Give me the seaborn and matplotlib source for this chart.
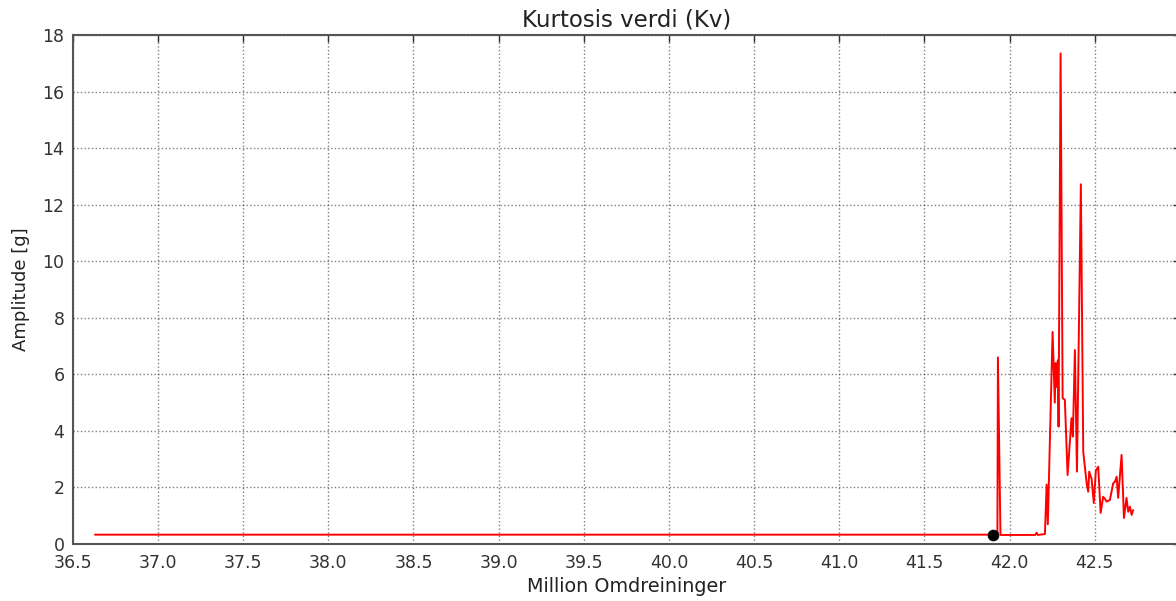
import matplotlib
matplotlib.use("Agg")
import matplotlib.pyplot as plt
import numpy as np
import pandas as pd
import seaborn as sns

# Kurtosis history over revolutions (million)
omdreininger = [
    36.63, 37.5, 38.5, 39.5, 40.5, 41.5, 41.90, 41.928,
    41.931, 41.946, 42.05, 42.15, 42.158, 42.165, 42.207,
    42.217, 42.224, 42.252, 42.265, 42.270, 42.275, 42.283, 42.287,
    42.299, 42.311, 42.324, 42.340, 42.363, 42.371, 42.383, 42.395,
    42.418, 42.432, 42.452, 42.461, 42.467, 42.481, 42.494, 42.506,
    42.520, 42.534, 42.549, 42.559, 42.569, 42.588, 42.608, 42.618,
    42.628, 42.637, 42.657, 42.671, 42.686, 42.696, 42.706, 42.716,
    42.725,
]
kurtosis = [
    0.33, 0.33, 0.33, 0.33, 0.33, 0.33, 0.33, 0.33,
    6.60, 0.32, 0.32, 0.32, 0.40, 0.32, 0.35,
    2.10, 0.70, 7.50, 5.00, 6.40, 5.56, 6.50, 4.15,
    17.35, 5.16, 5.10, 2.44, 4.45, 3.80, 6.86, 2.56,
    12.72, 3.26, 2.15, 1.85, 2.56, 2.30, 1.45, 2.60,
    2.73, 1.10, 1.67, 1.60, 1.50, 1.55, 2.15, 2.20,
    2.38, 1.63, 3.15, 0.92, 1.63, 1.14, 1.32, 1.03,
    1.20,
]
marker_x = [41.90]
marker_y = [0.33]

x_ticks = [36.5, 37.0, 37.5, 38.0, 38.5, 39.0, 39.5, 40.0, 40.5, 41.0, 41.5, 42.0, 42.5]
y_ticks = [0, 2, 4, 6, 8, 10, 12, 14, 16, 18]

sns.set_style("white")
plt.rcParams["font.family"] = ["DejaVu Sans"]

df = pd.DataFrame({"Million Omdreininger": omdreininger, "Amplitude [g]": kurtosis})

fig = plt.figure(figsize=(11.76, 6.01), dpi=100)
ax = fig.add_axes([72.8 / 1176, 1 - 544 / 601, (1180 - 72.8) / 1176, (544 - 35) / 601])

sns.lineplot(data=df, x="Million Omdreininger", y="Amplitude [g]", ax=ax,
             color="red", linewidth=1.4, estimator=None, sort=False)
sns.scatterplot(x=marker_x, y=marker_y, ax=ax, color="black", s=60,
                edgecolor="black", zorder=5)

ax.set_xlim(36.5, 43.0)
ax.set_ylim(0, 18)
ax.set_xticks(x_ticks)
ax.set_xticklabels([f"{t:.1f}" for t in x_ticks])
ax.set_yticks(y_ticks)

ax.grid(True, color="black", linestyle=":", linewidth=1.0, alpha=0.5)
ax.tick_params(direction="in", top=True, right=True, length=5, width=1,
               labelsize=12.5, colors="#333333")
ax.tick_params(axis="x", pad=7)
ax.tick_params(axis="y", pad=6)
for sp in ax.spines.values():
    sp.set_color("#555555")
    sp.set_linewidth(1.5)

ax.set_title("Kurtosis verdi (Kv)", fontsize=16.5, color="#222222", pad=6)
ax.set_xlabel("Million Omdreininger", fontsize=13.8, color="#222222", labelpad=4)
ax.set_ylabel("Amplitude [g]", fontsize=13, color="#222222", labelpad=9)

fig.savefig("out.png", dpi=100)
